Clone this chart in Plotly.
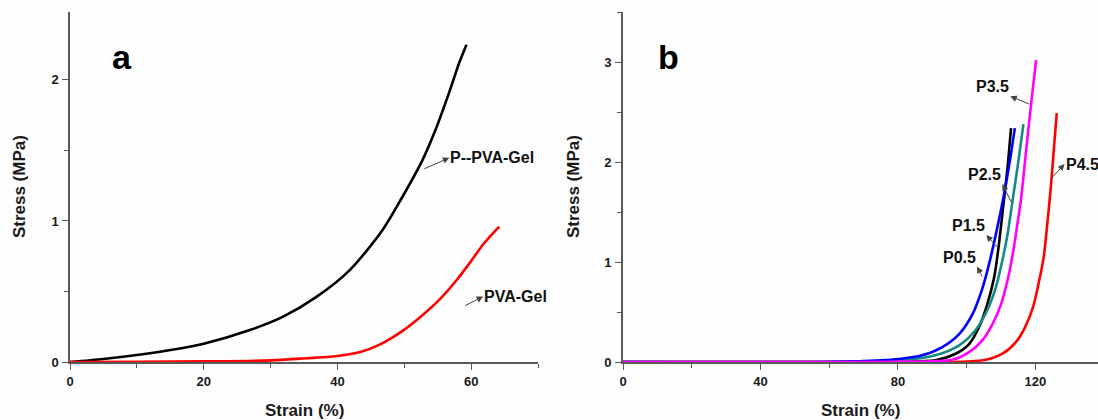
import plotly.graph_objects as go

# ---- Panel (a): PVA gels ----
strain_ppva = [0, 5, 10, 15, 20, 26.9, 31.8, 36.8, 41.8, 46.8, 49.7, 52.7, 54.7, 56.7, 58.2, 59.3]
stress_ppva = [0, 0.022, 0.05, 0.085, 0.13, 0.227, 0.32, 0.46, 0.65, 0.94, 1.17, 1.43, 1.65, 1.91, 2.12, 2.25]

strain_pva = [0, 10, 20, 30, 34.4, 40, 43.4, 46.4, 49.4, 52.4, 55.4, 57.9, 59.9, 61.9, 64.2]
stress_pva = [0, 0.002, 0.005, 0.012, 0.024, 0.043, 0.071, 0.125, 0.21, 0.32, 0.45, 0.585, 0.71, 0.84, 0.96]

# ---- Panel (b): P0.5 ... P4.5 ----
strain_p05 = [0, 55, 70, 81, 87, 92.9, 97.8, 101.7, 104.4, 106.5, 108.5, 110.6, 112.5, 114.0]
stress_p05 = [0, 0, 0.01, 0.033, 0.067, 0.15, 0.28, 0.48, 0.72, 0.98, 1.28, 1.63, 2.0, 2.34]

strain_p15 = [0, 60, 80, 90.9, 96.8, 100.7, 103.6, 106.0, 108.0, 109.2, 110.5, 111.8, 112.9]
stress_p15 = [0, 0, 0.004, 0.017, 0.083, 0.18, 0.35, 0.58, 0.85, 1.13, 1.52, 1.92, 2.34]

strain_p25 = [0, 60, 81.2, 90.9, 97.8, 102.6, 106.0, 108.5, 110.4, 111.9, 113.4, 115.0, 116.5]
stress_p25 = [0, 0, 0.017, 0.067, 0.167, 0.32, 0.52, 0.75, 1.02, 1.28, 1.63, 2.0, 2.38]

strain_p35 = [0, 60, 80, 95.8, 100.7, 104.6, 107.5, 110.0, 111.9, 113.4, 114.4, 115.8, 117.3, 118.8, 120.2]
stress_p35 = [0, 0, 0.004, 0.023, 0.10, 0.22, 0.38, 0.58, 0.82, 1.08, 1.30, 1.63, 2.12, 2.60, 3.02]

strain_p45 = [0, 90, 100, 105.6, 110.4, 114.3, 117.0, 119.3, 121.0, 122.4, 123.5, 124.6, 125.4, 126.2]
stress_p45 = [0, 0, 0.005, 0.023, 0.083, 0.2, 0.35, 0.55, 0.80, 1.05, 1.40, 1.80, 2.15, 2.49]

x_ticks_a = [0, 20, 40, 60]
y_ticks_a = [0, 1, 2]
x_ticks_b = [0, 40, 80, 120]
y_ticks_b = [0, 1, 2, 3]

FONT = "Liberation Sans, Arial, sans-serif"
AXIS_COLOR = "#5a5a5a"
TEXT_COLOR = "#1a1a1a"
LW = 2.6

W, H = 1098, 420
Y_DOM = [0.138, 0.971]
X_DOM_A = [0.0638, 0.490]
X_DOM_B = [0.5674, 1.0]

fig = go.Figure()


def add_curve(x, y, color, axis):
    xa, ya = axis
    fig.add_trace(go.Scatter(
        x=x, y=y, mode="lines", xaxis=xa, yaxis=ya,
        line=dict(color=color, width=LW, shape="spline", smoothing=0.8),
        showlegend=False, hoverinfo="skip",
    ))


add_curve(strain_ppva, stress_ppva, "#000000", ("x", "y"))
add_curve(strain_pva, stress_pva, "#ff0000", ("x", "y"))

add_curve(strain_p45, stress_p45, "#ff0000", ("x2", "y2"))
add_curve(strain_p15, stress_p15, "#000000", ("x2", "y2"))
add_curve(strain_p25, stress_p25, "#168a80", ("x2", "y2"))
add_curve(strain_p05, stress_p05, "#0000ff", ("x2", "y2"))
add_curve(strain_p35, stress_p35, "#ff00ff", ("x2", "y2"))


def axis_style(rng, tickvals, minor_dtick, domain, anchor, label_gap):
    return dict(
        range=rng, domain=domain, anchor=anchor, automargin=False,
        tickmode="array", tickvals=tickvals,
        ticks="outside", ticklen=6, tickwidth=1.3, tickcolor=AXIS_COLOR,
        ticklabelstandoff=label_gap,
        minor=dict(dtick=minor_dtick, tick0=0, ticks="outside", ticklen=4,
                   tickwidth=1.1, tickcolor=AXIS_COLOR),
        showline=True, linecolor=AXIS_COLOR, linewidth=1.6,
        showgrid=False, zeroline=False,
        tickfont=dict(family=FONT, size=13, color=TEXT_COLOR, weight="bold"),
    )


fig.update_layout(
    width=W, height=H,
    margin=dict(l=0, r=0, t=0, b=0),
    paper_bgcolor="#fdfdfd", plot_bgcolor="#fdfdfd",
    xaxis=axis_style([0, 70], x_ticks_a, 10, X_DOM_A, "y", 1),
    yaxis=axis_style([0, 2.48], y_ticks_a, 0.5, Y_DOM, "x", 1),
    xaxis2=axis_style([0, 138.2], x_ticks_b, 20, X_DOM_B, "y2", 1),
    yaxis2=axis_style([0, 3.5], y_ticks_b, 0.5, Y_DOM, "x2", 1),
)

# axis titles
title_font = dict(family=FONT, size=17, color=TEXT_COLOR, weight="bold")
for dom in (X_DOM_A, X_DOM_B):
    fig.add_annotation(text="Strain (%)", x=(dom[0] + dom[1]) / 2, y=1 - 410 / H,
                       xref="paper", yref="paper", showarrow=False,
                       xanchor="center", yanchor="middle", font=title_font)
for xpx in (19, 573):
    fig.add_annotation(text="Stress (MPa)", x=xpx / W, y=(Y_DOM[0] + Y_DOM[1]) / 2,
                       xref="paper", yref="paper", showarrow=False, textangle=-90,
                       xanchor="center", yanchor="middle", font=title_font)

label_font = dict(family=FONT, size=16, color="#111111", weight="bold")


def callout(text, x, y, ax, ay, xref, yref, xanchor, yanchor):
    fig.add_annotation(
        text=text, x=x, y=y, xref=xref, yref=yref,
        ax=ax, ay=ay, axref="pixel", ayref="pixel",
        xanchor=xanchor, yanchor=yanchor,
        showarrow=True, arrowside="start",
        startarrowhead=2, startarrowsize=1.3,
        arrowwidth=1, arrowcolor="#444444",
        font=label_font, borderpad=0,
    )


callout("P--PVA-Gel", 53.0, 1.37, 25, -11, "x", "y", "left", "middle")
callout("PVA-Gel", 59.1, 0.40, 18, -9, "x", "y", "left", "middle")

callout("P3.5", 118.2, 2.58, -19, -8, "x2", "y2", "right", "bottom")
callout("P4.5", 124.4, 1.83, 14, -15, "x2", "y2", "left", "middle")
callout("P2.5", 113.0, 1.60, -9, -18, "x2", "y2", "right", "bottom")
callout("P1.5", 108.9, 1.15, -11, -12, "x2", "y2", "right", "bottom")
callout("P0.5", 104.5, 0.855, -5, -10, "x2", "y2", "right", "bottom")

panel_font = dict(family=FONT, size=34, color="#000000", weight="bold")
fig.add_annotation(text="a", x=122 / W, y=1 - 57 / H, xref="paper", yref="paper",
                   showarrow=False, font=panel_font, xanchor="center", yanchor="middle")
fig.add_annotation(text="b", x=668 / W, y=1 - 57 / H, xref="paper", yref="paper",
                   showarrow=False, font=panel_font, xanchor="center", yanchor="middle")

fig.write_html("out.html")
